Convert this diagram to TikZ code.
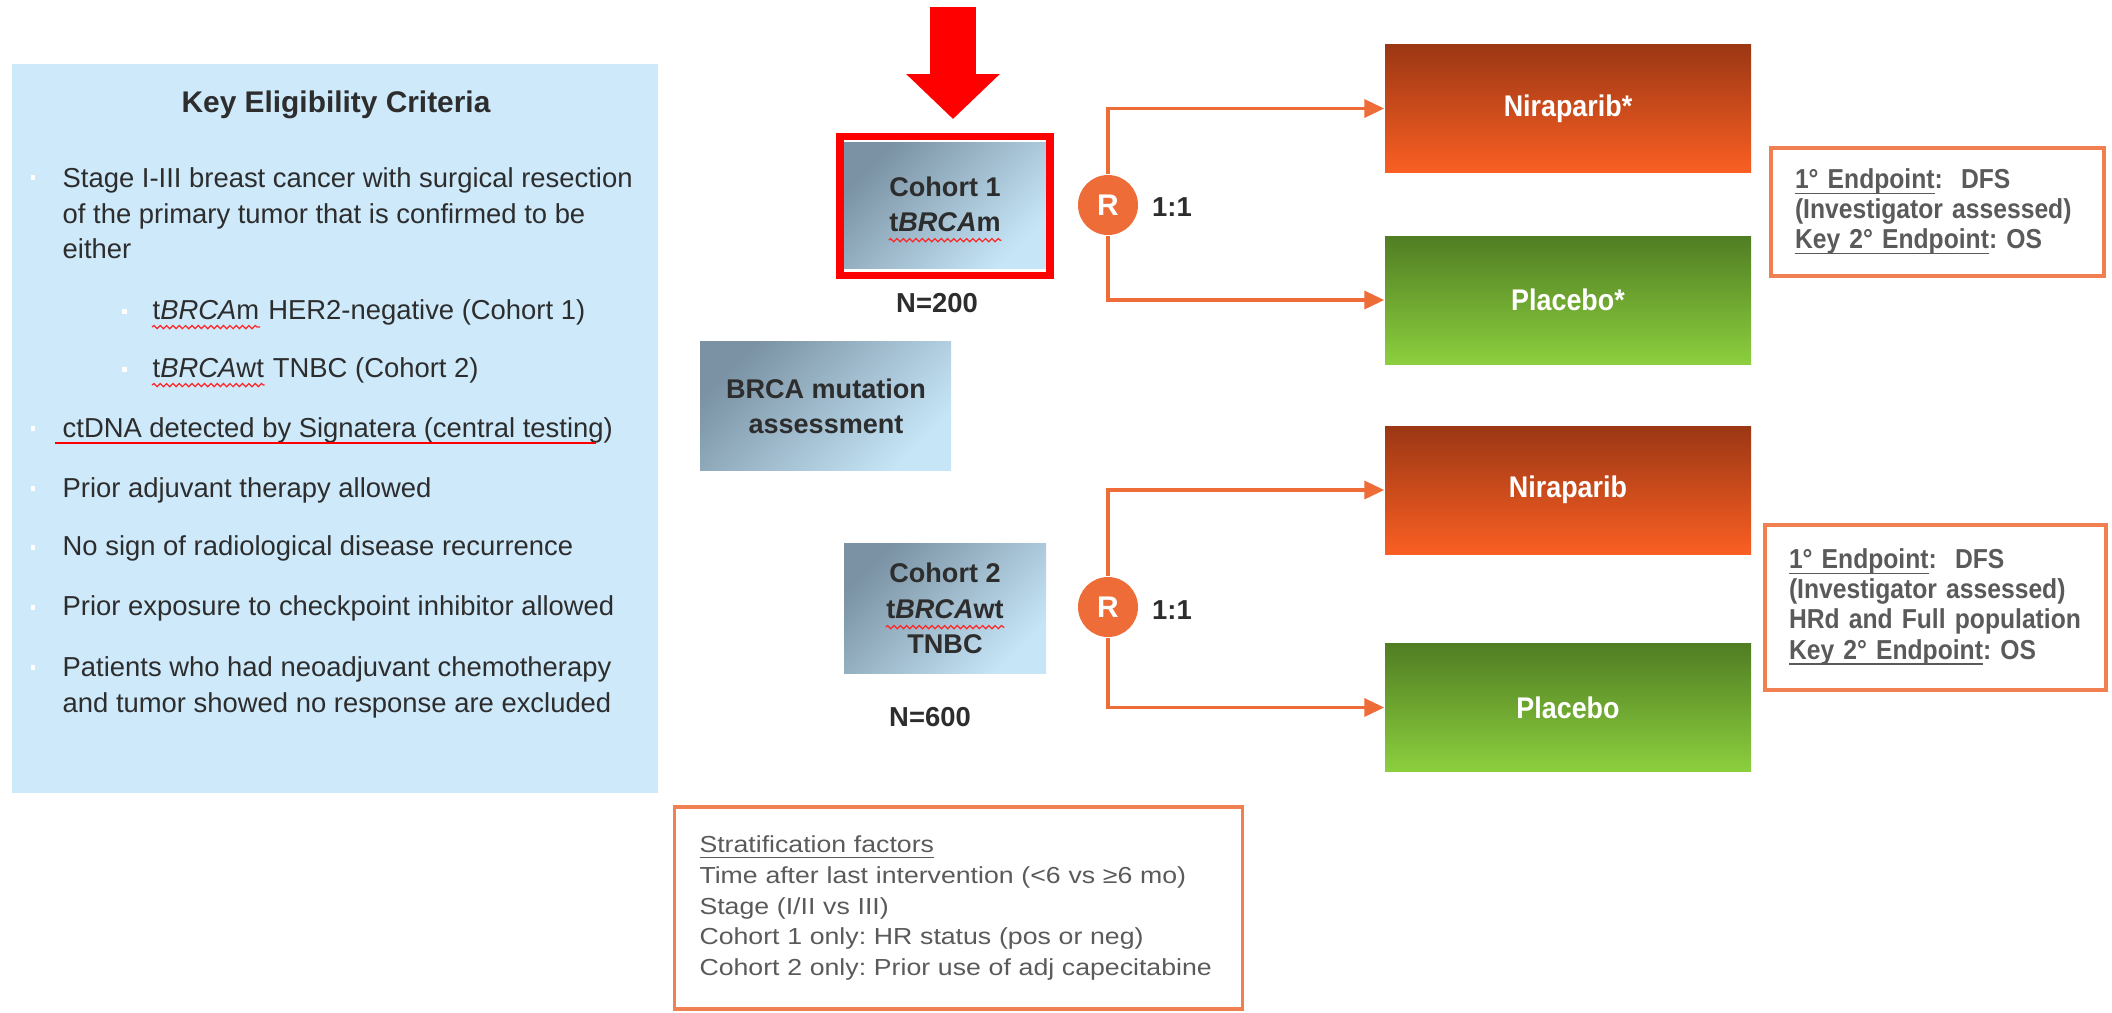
\documentclass[tikz,border=0pt]{standalone}
\usepackage{fontspec}
\setmainfont{Liberation Sans}
\newfontfamily\dinfont{Liberation Sans}[FakeStretch=0.9]
\newfontfamily\widefont{Liberation Sans}[FakeStretch=1.15]
\usetikzlibrary{positioning}
\usetikzlibrary{arrows.meta}
\usetikzlibrary{decorations.pathmorphing}
\frenchspacing
\hyphenpenalty=10000

\definecolor{critblue}{RGB}{205,233,250}
\definecolor{txtdark}{RGB}{45,45,45}
\definecolor{txtgray}{RGB}{90,90,90}
\definecolor{cohtop}{RGB}{122,146,163}
\definecolor{cohbot}{RGB}{198,230,248}
\definecolor{nirtop}{RGB}{155,55,20}
\definecolor{nirbot}{RGB}{250,95,35}
\definecolor{platop}{RGB}{80,125,35}
\definecolor{plabot}{RGB}{140,207,62}
\definecolor{ororange}{RGB}{237,108,56}
\definecolor{orbox}{RGB}{240,128,82}

% underline close to the baseline, line height kept
\newcommand\ulbase[1]{\underline{\smash{#1}}\vphantom{#1}}

\tikzset{
    critbox/.style = {rectangle, fill=critblue, minimum width=6.46cm, minimum height=7.29cm},
    crit/.style = {anchor=base west, inner sep=0pt, text=txtdark, font=\fontsize{7.8}{10}\selectfont},
    crittitle/.style = {anchor=base, inner sep=0pt, text=txtdark, font=\fontsize{8.5}{10}\selectfont\bfseries},
    cohort/.style = {rectangle, top color=cohtop, bottom color=cohbot, shading angle=45},
    cohtxt/.style = {anchor=base, inner sep=0pt, text=txtdark, font=\fontsize{7.7}{10}\selectfont\bfseries},
    highlight/.style = {rectangle, draw=red, line width=2pt, minimum width=2.10cm, minimum height=1.39cm},
    bigarrow/.style = {red, line width=13pt, -{Triangle[length=12.8pt,width=25.9pt]}},
    rnode/.style = {circle, fill=ororange, text=white, minimum size=0.60cm, inner sep=0pt, font=\fontsize{8.5}{10}\selectfont\bfseries},
    plain/.style = {text=txtdark, font=\fontsize{7.8}{10}\selectfont\bfseries},
    armo/.style = {rectangle, top color=nirtop, bottom color=nirbot, minimum width=3.66cm, minimum height=1.28cm, text=white, font=\dinfont\fontsize{8.5}{10}\selectfont\bfseries},
    armg/.style = {rectangle, top color=platop, bottom color=plabot, minimum width=3.66cm, minimum height=1.28cm, text=white, font=\dinfont\fontsize{8.5}{10}\selectfont\bfseries},
    endbox/.style = {rectangle, draw=orbox, line width=0.9pt, align=left, inner xsep=0.24cm, text=txtgray, font=\dinfont\fontsize{7.8}{8.55}\selectfont\bfseries},
    stratbox/.style = {rectangle, draw=orbox, line width=0.9pt, align=left, inner xsep=0.25cm, text=txtgray, font=\widefont\fontsize{6.6}{8.7}\selectfont},
    edgeo/.style = {-{Triangle[length=5.7pt,width=5.1pt]}, line width=1.1pt, ororange},
    wave/.style = {red!85!white, line width=0.35pt, decorate, decoration={snake, amplitude=0.45pt, segment length=1.8pt}},
}

\begin{document}
\begin{tikzpicture}
  \useasboundingbox (0,0) rectangle (21.12,-10.12);

  % eligibility panel
  \node[critbox] (crit) at (3.35,-4.285) {};
  \node[crittitle] (title) at (3.36,-1.12) {Key Eligibility Criteria};
  \node[crit] (crit1a) at (0.62,-1.87) {Stage I-III breast cancer with surgical resection};
  \node[crit] (crit1b) at (0.62,-2.23) {of the primary tumor that is confirmed to be};
  \node[crit] (crit1c) at (0.62,-2.58) {either};
  \node[crit] (sub1w) at (1.52,-3.19) {t\textit{BRCA}m};
  \node[crit] (sub1) at (sub1w.base east) {\ HER2-negative (Cohort 1)};
  \node[crit] (sub2w) at (1.52,-3.77) {t\textit{BRCA}wt};
  \node[crit] (sub2) at (sub2w.base east) {\ TNBC (Cohort 2)};
  \node[crit] (crit2) at (0.62,-4.37) {ctDNA detected by Signatera (central testing)};
  \node[crit] (crit3) at (0.62,-4.97) {Prior adjuvant therapy allowed};
  \node[crit] (crit4) at (0.62,-5.55) {No sign of radiological disease recurrence};
  \node[crit] (crit5) at (0.62,-6.15) {Prior exposure to checkpoint inhibitor allowed};
  \node[crit] (crit6a) at (0.62,-6.76) {Patients who had neoadjuvant chemotherapy};
  \node[crit] (crit6b) at (0.62,-7.12) {and tumor showed no response are excluded};
  \foreach \x/\y in {0.33/1.77, 1.24/3.11, 1.24/3.69, 0.33/4.28, 0.33/4.88, 0.33/5.47, 0.33/6.07, 0.33/6.67}
    \fill[white] (\x-0.025,-\y+0.025) rectangle (\x+0.025,-\y-0.025);
  \draw[wave] ([yshift=-2.3pt]sub1w.base west) -- ([yshift=-2.3pt]sub1w.base east);
  \draw[wave] ([yshift=-2.3pt]sub2w.base west) -- ([yshift=-2.3pt]sub2w.base east);
  \draw[red, line width=0.6pt] ([xshift=-2pt,yshift=-1.8pt]crit2.base west) -- ([xshift=-5pt,yshift=-1.8pt]crit2.base east);

  % cohorts
  \node[cohort, minimum width=2.02cm, minimum height=1.26cm] (c1) at (9.45,-2.05) {};
  \node[cohtxt] (c1a) at (9.45,-1.96) {Cohort 1};
  \node[cohtxt] (c1b) at (9.45,-2.31) {t\textit{BRCA}m};
  \draw[wave] ([yshift=-2.6pt]c1b.base west) -- ([yshift=-2.6pt]c1b.base east);
  \node[highlight] (hl) at (9.45,-2.06) {};
  \node[plain] (n1) at (9.37,-3.03) {N=200};

  \node[cohort, minimum width=2.51cm, minimum height=1.29cm] (brca) at (8.255,-4.055) {};
  \node[cohtxt] (brcaa) at (8.26,-3.98) {BRCA mutation};
  \node[cohtxt] (brcab) at (8.26,-4.33) {assessment};

  \node[cohort, minimum width=2.02cm, minimum height=1.30cm] (c2) at (9.45,-6.08) {};
  \node[cohtxt] (c2a) at (9.45,-5.82) {Cohort 2};
  \node[cohtxt] (c2b) at (9.45,-6.18) {t\textit{BRCA}wt};
  \node[cohtxt] (c2c) at (9.45,-6.53) {TNBC};
  \draw[wave] ([yshift=-2.6pt]c2b.base west) -- ([yshift=-2.6pt]c2b.base east);
  \node[plain] (n2) at (9.30,-7.17) {N=600};

  \coordinate (ptop) at (9.53,-0.07);
  \draw[bigarrow, shorten >=0.14cm] (ptop) -- (ptop |- hl.north);

  % randomisation
  \node[rnode] (r1) at (11.08,-2.05) {R};
  \node[plain] (ratio1) at (11.72,-2.07) {1:1};
  \node[rnode] (r2) at (11.08,-6.07) {R};
  \node[plain] (ratio2) at (11.72,-6.10) {1:1};

  % arms
  \node[armo] (nir1) at (15.68,-1.085) {Niraparib*};
  \node[armg] (pla1) at (15.68,-3.00) {Placebo*};
  \node[armo] (nir2) at (15.68,-4.90) {Niraparib};
  \node[armg] (pla2) at (15.68,-7.075) {Placebo};

  \draw[edgeo] (r1.north) |- (nir1.west);
  \draw[edgeo] (r1.south) |- (pla1.west);
  \draw[edgeo] (r2.north) |- (nir2.west);
  \draw[edgeo] (r2.south) |- (pla2.west);

  % endpoints
  \node[endbox, text width=2.85cm, minimum height=1.28cm] (ep1) at (19.375,-2.12)
    {\ulbase{1° Endpoint}:\ \ DFS\\(Investigator assessed)\\\ulbase{Key 2° Endpoint}: OS};
  \node[endbox, text width=2.93cm, minimum height=1.65cm] (ep2) at (19.355,-6.075)
    {\ulbase{1° Endpoint}:\ \ DFS\\(Investigator assessed)\\HRd and Full population\\\ulbase{Key 2° Endpoint}: OS};

  % stratification
  \node[stratbox, text width=5.18cm, minimum height=2.02cm] (strat) at (9.585,-9.08)
    {\ulbase{Stratification factors}\\Time after last intervention (<6 vs ≥6 mo)\\Stage (I/II vs III)\\Cohort 1 only: HR status (pos or neg)\\Cohort 2 only: Prior use of adj capecitabine};
\end{tikzpicture}
\end{document}
